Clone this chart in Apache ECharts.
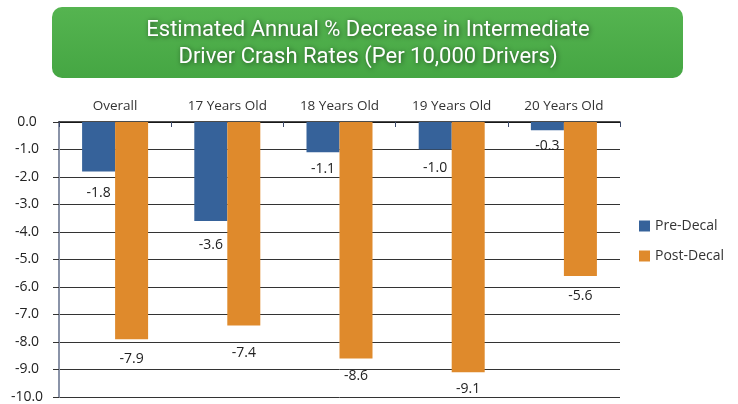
<!DOCTYPE html>
<html>
<head>
<meta charset="utf-8">
<script src="https://cdn.jsdelivr.net/npm/echarts@6/dist/echarts.min.js"></script>
<style>
  html, body { margin: 0; padding: 0; background: #fff; }
  #chart { width: 738px; height: 404px; }
</style>
</head>
<body>
<div id="chart"></div>
<script>
// chart data
var categories = ['Overall', '17 Years Old', '18 Years Old', '19 Years Old', '20 Years Old'];
var preDecal = [-1.8, -3.6, -1.1, -1.0, -0.3];
var postDecal = [-7.9, -7.4, -8.6, -9.1, -5.6];
var seriesNames = ['Pre-Decal', 'Post-Decal'];
var titleLines = ['Estimated Annual % Decrease in Intermediate', 'Driver Crash Rates (Per 10,000 Drivers)'];

// gap between bar end and its value label (the original nudges a few labels off the grid lines)
var preLabelGap = [15, 17, 10, 12, 9];
var postLabelGap = [13, 21, 11, 10, 13];

var font = '"Open Sans", "Liberation Sans", sans-serif';

var myChart = echarts.init(document.getElementById('chart'));

function withLabels(values, gaps) {
    return values.map(function (v, i) {
        return { value: v, label: { distance: gaps[i] } }
    })
}

function barLabel() {
    return {
        show: true,
        position: 'bottom',
        color: '#222',
        fontSize: 14,
        fontFamily: font,
        formatter: function (p) { return p.value.toFixed(1) }
    }
}

myChart.setOption({
    animation: false,
    graphic: [{
        type: 'rect',
        left: 52,
        top: 7,
        shape: { width: 631, height: 71, r: 10 },
        style: {
            fill: new echarts.graphic.LinearGradient(0, 0, 0, 1, [
                { offset: 0, color: '#55B450' },
                { offset: 1, color: '#45A643' }
            ])
        },
        z: 0
    }, {
        type: 'text',
        x: 368,
        y: 17,
        style: {
            text: titleLines.join('\n'),
            fill: '#fff',
            fontSize: 22,
            lineHeight: 27,
            align: 'center',
            fontFamily: '"Roboto", sans-serif',
            textShadowColor: 'rgba(0,0,0,0.55)',
            textShadowBlur: 5,
            textShadowOffsetX: 1,
            textShadowOffsetY: 1
        },
        z: 10
    }],
    legend: {
        orient: 'vertical',
        left: 634,
        top: 214,
        itemWidth: 11,
        itemHeight: 11,
        itemGap: 16,
        icon: 'rect',
        textStyle: { fontSize: 14, color: '#333', fontFamily: font },
        data: seriesNames
    },
    grid: { left: 59, top: 122, width: 561, height: 275 },
    xAxis: {
        type: 'category',
        position: 'top',
        data: categories,
        axisLine: { show: true, lineStyle: { color: '#111', width: 1.5 } },
        axisTick: { show: true, inside: true, length: 5, lineStyle: { color: '#3c4a6b' } },
        axisLabel: { color: '#333', fontSize: 13.5, fontFamily: font, margin: 9 }
    },
    yAxis: {
        type: 'value',
        min: -10,
        max: 0,
        interval: 1,
        axisLine: { show: true, lineStyle: { color: '#8a93a8', width: 2 } },
        axisTick: { show: true, length: 6, lineStyle: { color: '#333' } },
        splitLine: { show: true, lineStyle: { color: '#333', width: 1 } },
        axisLabel: {
            color: '#222', fontSize: 14, fontFamily: font, margin: 32, align: 'center',
            formatter: function (v) { return v.toFixed(1) }
        }
    },
    series: [{
        name: seriesNames[0],
        type: 'bar',
        data: withLabels(preDecal, preLabelGap),
        barWidth: 33,
        barGap: '0%',
        itemStyle: { color: '#36629A' },
        label: barLabel()
    }, {
        name: seriesNames[1],
        type: 'bar',
        data: withLabels(postDecal, postLabelGap),
        barWidth: 33,
        barGap: '0%',
        itemStyle: { color: '#DF8A2C' },
        label: barLabel()
    }]
});
</script>
</body>
</html>
